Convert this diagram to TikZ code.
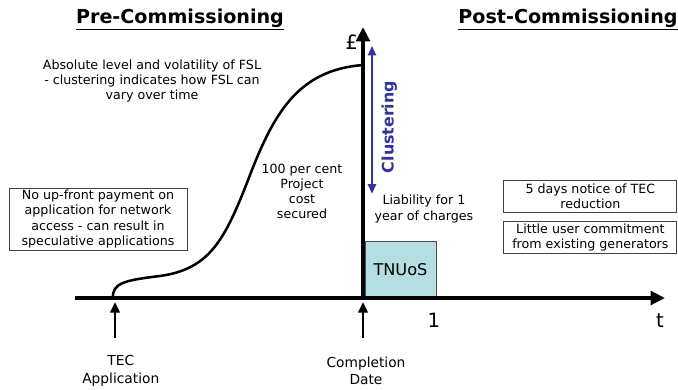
\documentclass[tikz,border=0pt]{standalone}
\usepackage{fontspec}
\setmainfont{DejaVu Sans}
\usepackage{tikz}
\usetikzlibrary{
    arrows.meta,
    positioning,
    calc
}

\definecolor{clusterblue}{RGB}{51,51,153}
\definecolor{tnuosfill}{RGB}{180,222,226}

\begin{document}
\begin{tikzpicture}[
  x=1cm,
  y=1cm,
  every node/.style={align=center},
  heading/.style={
    font=\fontsize{13.6}{15}\selectfont\bfseries,
    inner sep=1pt
  },
  note/.style={
    font=\fontsize{9}{10.7}\selectfont,
    inner sep=1pt
  },
  marklabel/.style={
    font=\fontsize{9.8}{12.4}\selectfont,
    inner sep=1pt
  },
  notebox/.style={
    draw=black!75,
    line width=0.6pt,
    font=\fontsize{9}{10.7}\selectfont,
    inner sep=1pt
  },
  axislabel/.style={
    font=\fontsize{14}{16}\selectfont,
    inner sep=0pt
  },
  axis/.style={-{Triangle[length=3.6mm,width=3.4mm]}, line width=2.7pt},
  pointer/.style={-{Triangle[length=2.6mm,width=2.4mm]}, line width=1.6pt},
  cluster/.style={{Triangle[length=2.4mm,width=2.0mm]}-{Triangle[length=2.4mm,width=2.0mm]}, line width=1.5pt, draw=clusterblue},
  fslcurve/.style={line width=1.8pt}
]
  \useasboundingbox (0,0) rectangle (16.95,9.725);

  % Headings.
  \node[heading] (pre) at (4.5,9.24) {\underline{Pre-Commissioning}};
  \node[heading] (post) at (14.2,9.24) {\underline{Post-Commissioning}};

  % Time and cost axes.
  \coordinate (tstart) at (1.875,2.275);
  \coordinate (tend) at (16.625,2.275);
  \coordinate (fbase) at (9.075,2.275);
  \coordinate (ftop) at (9.075,9.05);

  % Liability block sits behind the axes.
  \node[draw=black!70, line width=0.6pt, fill=tnuosfill,
        minimum width=1.775cm, minimum height=1.425cm, inner sep=0pt,
        font=\fontsize{11.5}{13}\selectfont] (tnuos) at (10.0125,2.9875) {TNUoS};

  \draw[axis] (tstart) -- (tend);
  \draw[axis] (fbase) -- (ftop);
  \node[axislabel] (pound) at (8.79,8.68) {£};
  \node[axislabel] (tlabel) at (16.5,1.72) {t};
  \node[axislabel] (onelabel) at (10.85,1.72) {1};

  % FSL build-up curve.
  \coordinate (tecpoint) at (2.825,2.275);
  \coordinate (fslpeak) at (9.075,8.1);
  \draw[fslcurve] (tecpoint) .. controls (2.8,2.65) and (3.125,2.72) .. (4.0,2.825)
    .. controls (5.25,3.0) and (5.625,3.725) .. (6.25,5.35)
    .. controls (6.875,6.975) and (7.5,7.975) .. (fslpeak);

  % Clustering range.
  \coordinate (clustop) at (9.3,8.58);
  \coordinate (clusbot) at (9.3,4.88);
  \draw[cluster] (clustop) -- (clusbot);
  \node[font=\fontsize{11.3}{12}\selectfont\bfseries, text=clusterblue, rotate=90, inner sep=0pt]
    (clustering) at (9.73,6.55) {Clustering};

  % Milestones on the time axis.
  \coordinate (tecfoot) at (2.875,1.27);
  \coordinate (tectip) at (2.875,2.17);
  \coordinate (compfoot) at (9.075,1.27);
  \coordinate (comptip) at (9.075,2.17);
  \draw[pointer] (tecfoot) -- (tectip);
  \draw[pointer] (compfoot) -- (comptip);
  \node[marklabel] (tec) at (3.02,0.45) {TEC\\Application};
  \node[marklabel] (completion) at (9.15,0.45) {Completion\\Date};

  % Pre-commissioning notes.
  \node[note] (fsl) at (3.8,7.7) {Absolute level and volatility of FSL\\- clustering indicates how FSL can\\vary over time};
  \node[notebox, minimum width=4.45cm, minimum height=1.55cm] (upfront) at (2.45,4.25)
    {No up-front payment on\\application for network\\access - can result in\\speculative applications};
  \node[note] (secured) at (7.55,4.93) {100 per cent\\Project\\cost\\secured};

  % Post-commissioning notes.
  \node[note] (liability) at (10.6,4.5) {Liability for 1\\year of charges};
  \node[notebox, minimum width=4.325cm, minimum height=0.8cm] (notice) at (14.76,4.825)
    {5 days notice of TEC\\reduction};
  \node[notebox, minimum width=4.325cm, minimum height=0.78cm] (commit) at (14.76,3.79)
    {Little user commitment\\from existing generators};
\end{tikzpicture}
\end{document}
